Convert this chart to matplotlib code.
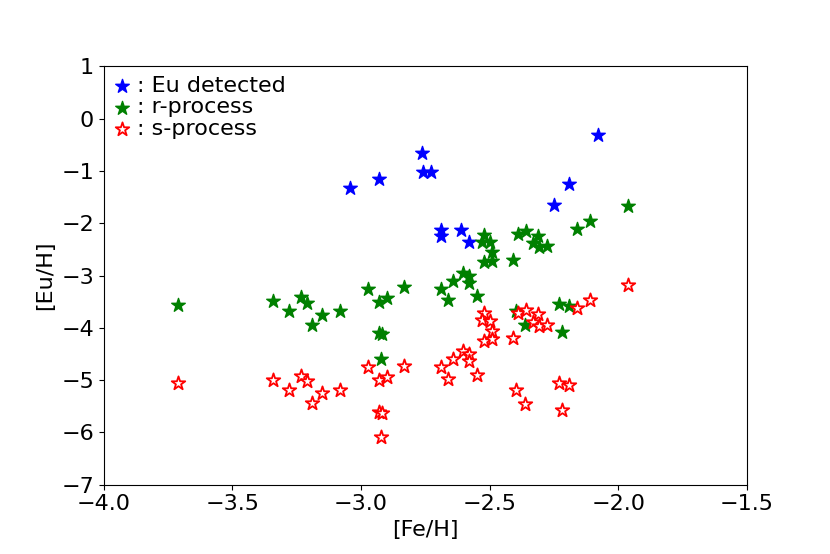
import matplotlib
matplotlib.use("Agg")
import matplotlib.pyplot as plt

# Eu detected stars
eu_feh = [-3.043, -2.930, -2.764, -2.758, -2.729, -2.690, -2.690, -2.610, -2.580, -2.251, -2.191, -2.078]
eu_euh = [-1.316, -1.149, -0.652, -1.010, -1.023, -2.125, -2.248, -2.120, -2.363, -1.647, -1.245, -0.307]

# r-process estimates
r_feh = [-3.710, -3.341, -3.280, -3.233, -3.209, -3.191, -3.151, -3.082, -2.972, -2.931,
         -2.900, -2.832, -2.931, -2.919, -2.922, -1.961, -2.110, -2.161, -2.391, -2.359,
         -2.311, -2.331, -2.308, -2.278, -2.521, -2.531, -2.499, -2.490, -2.521, -2.490,
         -2.411, -2.603, -2.579, -2.580, -2.641, -2.690, -2.661, -2.551, -2.229, -2.191,
         -2.399, -2.363, -2.220]
r_euh = [-3.555, -3.492, -3.683, -3.415, -3.517, -3.938, -3.746, -3.683, -3.255, -3.511,
         -3.427, -3.224, -4.104, -4.116, -4.594, -1.674, -1.961, -2.114, -2.210, -2.152,
         -2.234, -2.382, -2.458, -2.432, -2.215, -2.349, -2.363, -2.554, -2.745, -2.713,
         -2.700, -2.948, -3.000, -3.147, -3.096, -3.255, -3.465, -3.383, -3.542, -3.588,
         -3.683, -3.944, -4.072]

# s-process estimates
s_feh = [-3.710, -3.341, -3.280, -3.233, -3.209, -3.191, -3.151, -3.082, -2.972, -2.931,
         -2.900, -2.832, -2.931, -2.919, -2.922, -1.961, -2.110, -2.161, -2.391, -2.359,
         -2.311, -2.331, -2.308, -2.278, -2.521, -2.531, -2.499, -2.490, -2.521, -2.490,
         -2.411, -2.603, -2.579, -2.580, -2.641, -2.690, -2.661, -2.551, -2.229, -2.191,
         -2.399, -2.363, -2.220]
s_euh = [-5.061, -4.990, -5.182, -4.927, -5.023, -5.444, -5.245, -5.182, -4.755, -4.996,
         -4.933, -4.736, -5.603, -5.628, -6.095, -3.172, -3.465, -3.626, -3.714, -3.651,
         -3.733, -3.880, -3.957, -3.944, -3.721, -3.848, -3.875, -4.053, -4.244, -4.211,
         -4.200, -4.449, -4.499, -4.640, -4.594, -4.755, -4.977, -4.901, -5.054, -5.092,
         -5.182, -5.455, -5.570]

x_ticks = [-4.0, -3.5, -3.0, -2.5, -2.0, -1.5]
y_ticks = [1, 0, -1, -2, -3, -4, -5, -6, -7]

plt.rcParams['font.size'] = 16

fig = plt.figure(figsize=(8.3, 5.54), dpi=100)
ax = fig.add_axes([0.125, 0.125, 0.775, 0.755])

ax.scatter(eu_feh, eu_euh, marker='*', s=105, color='blue', label=': Eu detected')
ax.scatter(r_feh, r_euh, marker='*', s=105, color='green', label=': r-process')
ax.scatter(s_feh, s_euh, marker='*', s=105, facecolor='white', edgecolor='red',
           linewidths=1.3, label=': s-process')

ax.set_xlim(-4.0, -1.5)
ax.set_ylim(-7, 1)
ax.set_xticks(x_ticks)
ax.set_yticks(y_ticks)
ax.set_xlabel('[Fe/H]', fontsize=16, labelpad=4)
ax.set_ylabel('[Eu/H]', fontsize=16)

ax.legend(loc='upper left', frameon=False, fontsize=16, handlelength=0.8,
          handletextpad=0.25, labelspacing=0.06, borderaxespad=0.33, borderpad=0.1)

fig.savefig('out.png', dpi=100)
